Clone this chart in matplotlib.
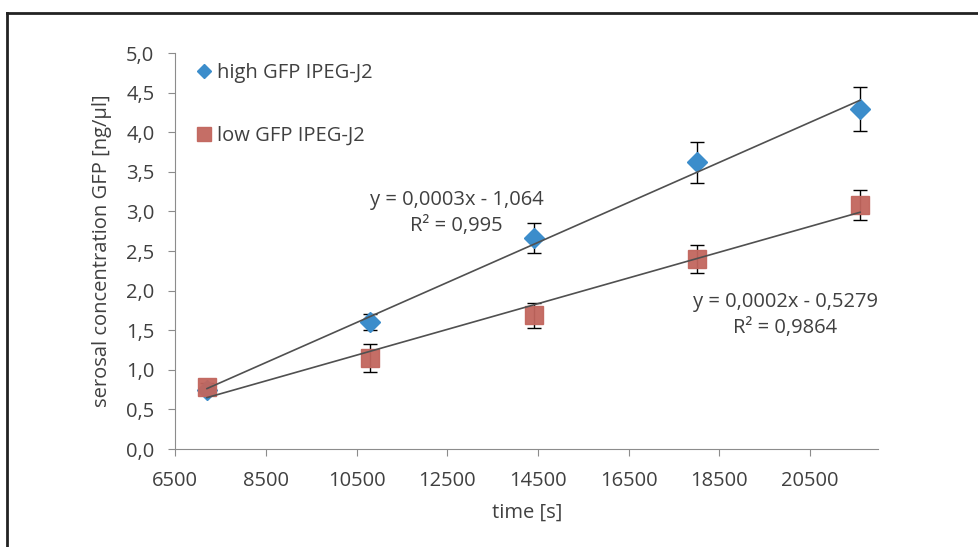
import numpy as np
import matplotlib.pyplot as plt
from matplotlib.lines import Line2D
from matplotlib.ticker import FuncFormatter

plt.rcParams['font.family'] = ['Open Sans', 'DejaVu Sans']

# data
time_s = [7200, 10800, 14400, 18000, 21600]
high_gfp = [0.75, 1.60, 2.66, 3.62, 4.29]
high_err = [0.04, 0.10, 0.19, 0.26, 0.28]
low_gfp = [0.78, 1.15, 1.69, 2.40, 3.08]
low_err = [0.05, 0.18, 0.16, 0.18, 0.19]

blue = '#3C8DCB'
red = '#C2665E'
txt = '#404040'
axcol = '#8C8C8C'
fs = 14.5

fig = plt.figure(figsize=(9.79, 5.47), dpi=100)
ax = fig.add_axes([0.179, 0.179, 0.718, 0.724])

x = np.array(time_s)

# trend lines from a linear fit
for y in (high_gfp, low_gfp):
    k, d = np.polyfit(x, y, 1)
    ax.plot(x, k * x + d, color='#505050', lw=1.2, zorder=4)

ax.errorbar(x, low_gfp, yerr=low_err, fmt='none', ecolor='black', elinewidth=1, capsize=5, zorder=2)
ax.errorbar(x, high_gfp, yerr=high_err, fmt='none', ecolor='black', elinewidth=1, capsize=5, zorder=2)
ax.plot(x, high_gfp, 'D', color=blue, ms=10, mec=blue, label='high GFP IPEG-J2', zorder=3)
ax.plot(x, low_gfp, 's', color=red, ms=13, mec=red, alpha=0.95, label='low GFP IPEG-J2', zorder=3)

ax.set_xlim(6500, 22000)
ax.set_ylim(0, 5)
ax.set_xticks(np.arange(6500, 22000, 2000))
ax.set_yticks(np.arange(0, 5.01, 0.5))
ax.yaxis.set_major_formatter(FuncFormatter(lambda v, p: f'{v:.1f}'.replace('.', ',')))

for s in ['top', 'right']:
    ax.spines[s].set_visible(False)
for s in ['left', 'bottom']:
    ax.spines[s].set_color(axcol)
ax.tick_params(colors=axcol, labelcolor=txt, labelsize=fs, length=5, direction='out')
ax.tick_params(axis='x', pad=11)
ax.tick_params(axis='y', pad=10)

ax.set_xlabel('time [s]', fontsize=fs, color=txt, labelpad=8)
ax.set_ylabel('serosal concentration GFP [ng/µl]', fontsize=fs, color=txt, labelpad=10)

ax.legend(loc='upper left', bbox_to_anchor=(0.005, 1.02), frameon=False, fontsize=fs,
          labelspacing=2.1, handlelength=0.7, handletextpad=0.3, labelcolor=txt,
          markerscale=0.75)

ax.text(0.40, 0.596, 'y = 0,0003x - 1,064\nR² = 0,995', transform=ax.transAxes,
        ha='center', va='center', fontsize=fs, color=txt, linespacing=1.4)
ax.text(0.868, 0.338, 'y = 0,0002x - 0,5279\nR² = 0,9864', transform=ax.transAxes,
        ha='center', va='center', fontsize=fs, color=txt, linespacing=1.4)

# frame around the chart area
fig.add_artist(Line2D([0.007, 1.0], [0.976, 0.976], color='#222222', lw=2, transform=fig.transFigure))
fig.add_artist(Line2D([0.007, 0.007], [0.0, 0.976], color='#222222', lw=2, transform=fig.transFigure))

fig.savefig('out.png', dpi=100, facecolor='white')
